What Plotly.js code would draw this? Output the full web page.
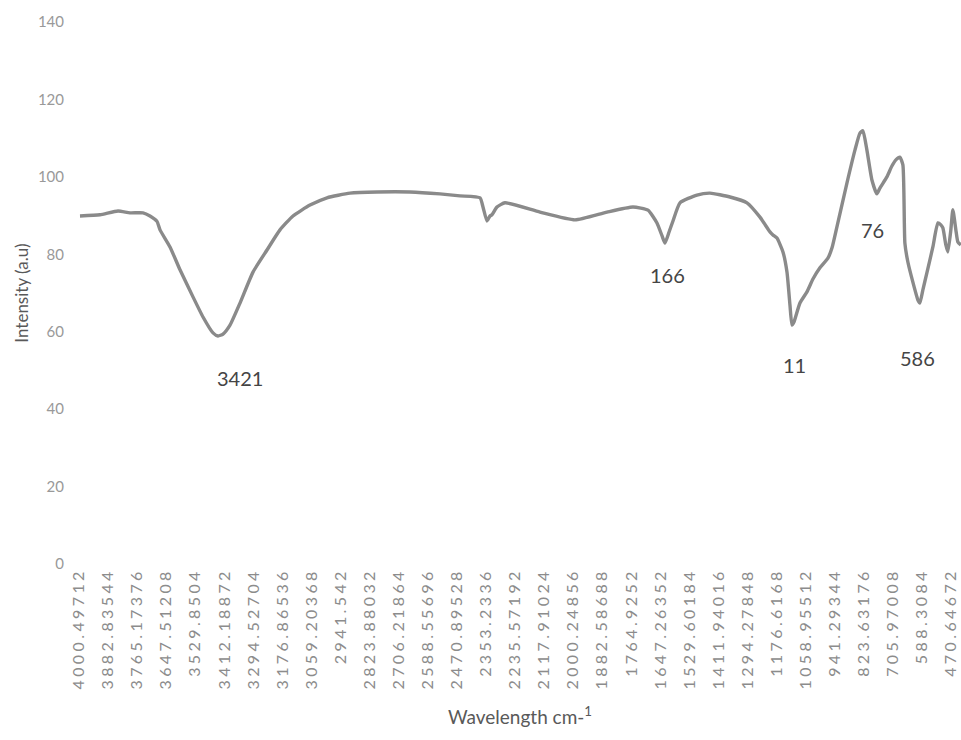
<!DOCTYPE html>
<html>
<head>
<meta charset="utf-8">
<script src="https://cdn.plot.ly/plotly-3.0.1.min.js"></script>
<style>
  html, body { margin: 0; padding: 0; background: #ffffff; }
  #chart { width: 961px; height: 740px; }
  .xtick text { letter-spacing: 3.4px; }
</style>
</head>
<body>
<div id="chart"></div>
<script>
// FTIR spectrum: wavenumber (cm-1) against intensity (a.u)
const wavenumber = [
  3996.5, 3915.5, 3842.6, 3794.1, 3741.5, 3713.1, 3684.8, 3672.6, 3632.2, 3591.7,
  3539.1, 3498.6, 3458.1, 3437.9, 3417.6, 3389.3, 3348.8, 3296.2, 3239.6, 3187.0,
  3134.3, 3065.5, 2996.7, 2903.6, 2794.3, 2660.7, 2539.3, 2458.4, 2377.4, 2365.3,
  2349.1, 2337.0, 2328.9, 2308.7, 2276.3, 2134.6, 1992.9, 1863.4, 1758.2, 1697.5,
  1661.1, 1640.8, 1628.7, 1612.5, 1596.3, 1568.0, 1499.2, 1446.6, 1365.6, 1296.8,
  1244.2, 1203.7, 1191.6, 1175.4, 1151.1, 1134.9, 1122.8, 1114.7, 1106.6, 1082.4,
  1054.0, 1029.8, 1001.5, 969.1, 952.9, 932.7, 892.2, 859.8, 839.6, 827.5,
  811.3, 791.1, 770.9, 758.7, 730.4, 710.2, 694.0, 677.8, 665.7, 657.6,
  645.5, 625.3, 605.0, 596.9, 584.8, 568.6, 544.3, 524.1, 512.0, 503.9,
  491.8, 483.7, 471.6, 463.5, 451.3, 443.2, 431.1
];
const intensity = [
  89.9, 90.2, 91.2, 90.7, 90.7, 89.9, 88.5, 86.3, 81.9, 76.0,
  69.0, 63.8, 59.7, 58.9, 59.4, 61.7, 67.4, 75.4, 81.1, 86.3,
  89.9, 92.7, 94.6, 95.8, 96.1, 96.1, 95.6, 95.1, 94.6, 92.2,
  88.6, 89.9, 90.2, 92.2, 93.3, 90.9, 88.9, 90.9, 92.2, 91.4,
  88.1, 84.8, 82.9, 85.7, 88.6, 93.3, 95.3, 95.8, 94.8, 93.3,
  89.6, 85.8, 85.0, 84.2, 80.6, 75.4, 66.9, 61.7, 62.5, 67.4,
  70.3, 73.6, 76.5, 79.0, 81.6, 87.1, 98.4, 106.9, 111.3, 111.9,
  106.9, 99.2, 95.6, 97.1, 100.0, 102.8, 104.4, 105.1, 103.1, 82.9,
  78.0, 72.8, 68.2, 67.4, 70.8, 75.2, 81.9, 88.1, 87.6, 86.8,
  82.4, 80.6, 86.3, 91.5, 86.3, 83.2, 82.4
];

// Category labels shown along the wavenumber axis
const tickLabels = [
  "4000.49712", "3882.83544", "3765.17376", "3647.51208", "3529.8504",
  "3412.18872", "3294.52704", "3176.86536", "3059.20368", "2941.542",
  "2823.88032", "2706.21864", "2588.55696", "2470.89528", "2353.2336",
  "2235.57192", "2117.91024", "2000.24856", "1882.58688", "1764.9252",
  "1647.26352", "1529.60184", "1411.94016", "1294.27848", "1176.6168",
  "1058.95512", "941.29344", "823.63176", "705.97008", "588.3084",
  "470.64672"
];
const yTicks = [0, 20, 40, 60, 80, 100, 120, 140];

// Band annotations: text, wavenumber position, intensity position
const bandText = ["3421", "166", "11", "76", "586"];
const bandX = [3348.8, 1616.5, 1102.5, 786.8, 605.0];
const bandY = [48.0, 74.7, 51.4, 86.3, 53.2];

const trace = {
  x: wavenumber,
  y: intensity,
  type: "scatter",
  mode: "lines",
  line: { color: "#8a8a8a", width: 3.4, shape: "spline", smoothing: 0.5 },
  hoverinfo: "x+y",
  showlegend: false
};

const annotations = bandText.map((t, i) => ({
  x: bandX[i], y: bandY[i], xref: "x", yref: "y",
  text: t, showarrow: false,
  font: { family: "Lato, 'Open Sans', sans-serif", size: 20, color: "#454545" }
}));

const layout = {
  width: 961,
  height: 740,
  margin: { l: 79, r: 0, t: 22, b: 176, pad: 0 },
  paper_bgcolor: "#ffffff",
  plot_bgcolor: "#ffffff",
  showlegend: false,
  xaxis: {
    range: [4000.5, 430.5],
    tickmode: "array",
    tickvals: tickLabels.map(Number),
    ticktext: tickLabels,
    tickangle: -90,
    ticks: "",
    showgrid: false,
    zeroline: false,
    showline: false,
    tickfont: { family: "Lato, 'Open Sans', sans-serif", size: 16, color: "#8c8c8c" },
    title: {
      text: "Wavelength cm-<sup>1</sup>",
      font: { family: "Lato, 'Open Sans', sans-serif", size: 19, color: "#595959" },
      standoff: 22
    }
  },
  yaxis: {
    range: [0, 140],
    tickmode: "array",
    tickvals: yTicks,
    ticks: "",
    showgrid: false,
    zeroline: false,
    showline: false,
    ticklabelstandoff: 14,
    tickfont: { family: "Lato, 'Open Sans', sans-serif", size: 15, color: "#999999" },
    title: {
      text: "Intensity (a.u)",
      font: { family: "Lato, 'Open Sans', sans-serif", size: 17, color: "#595959" },
      standoff: 4
    }
  },
  annotations: annotations
};

Plotly.newPlot("chart", [trace], layout, { displayModeBar: false, staticPlot: true });
</script>
</body>
</html>
